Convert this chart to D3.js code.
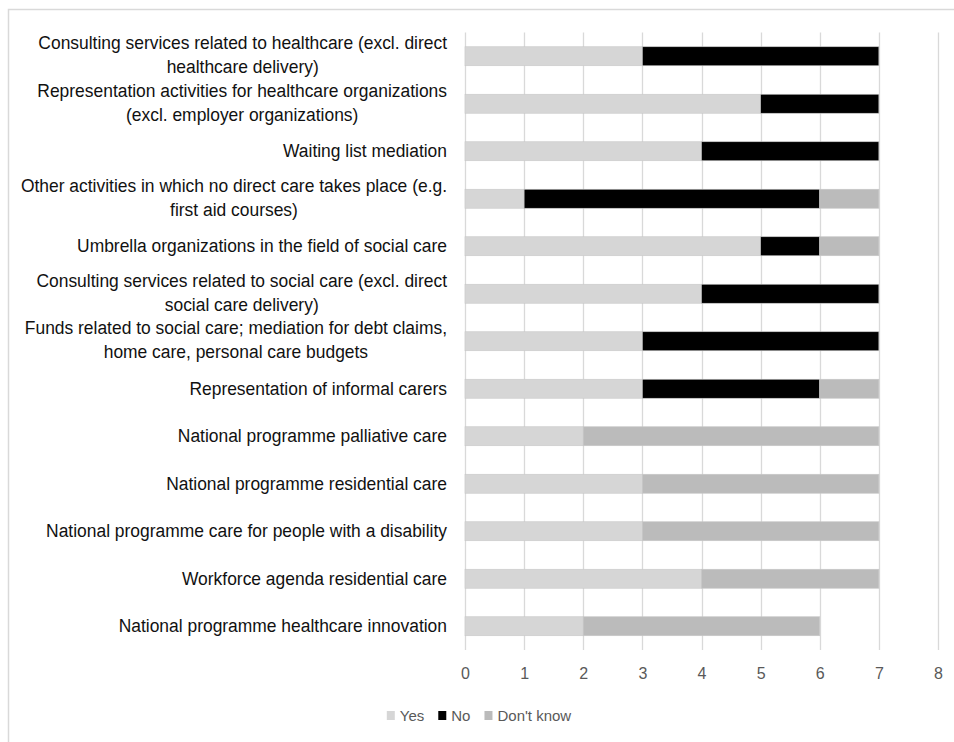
<!DOCTYPE html>
<html>
<head>
<meta charset="utf-8">
<script src="https://cdn.jsdelivr.net/npm/d3@7"></script>
<style>
  html, body { margin: 0; padding: 0; background: #fff; }
  svg { display: block; }
</style>
</head>
<body>
<svg id="chart" width="954" height="742"></svg>
<script>
// ---- Data ----
const categories = [
  ["Consulting services related to healthcare (excl. direct", "healthcare delivery)"],
  ["Representation activities for healthcare organizations", "(excl. employer organizations)"],
  ["Waiting list mediation"],
  ["Other activities in which no direct care takes place (e.g.", "first aid courses)"],
  ["Umbrella organizations in the field of social care"],
  ["Consulting services related to social care (excl. direct", "social care delivery)"],
  ["Funds related to social care; mediation for debt claims,", "home care, personal care budgets"],
  ["Representation of informal carers"],
  ["National programme palliative care"],
  ["National programme residential care"],
  ["National programme care for people with a disability"],
  ["Workforce agenda residential care"],
  ["National programme healthcare innovation"]
];
const yesValues     = [3, 5, 4, 1, 5, 4, 3, 3, 2, 3, 3, 4, 2];
const noValues      = [4, 2, 3, 5, 1, 3, 4, 3, 0, 0, 0, 0, 0];
const dontKnowValues= [0, 0, 0, 1, 1, 0, 0, 1, 5, 4, 4, 3, 4];
const seriesNames = ["Yes", "No", "Don't know"];
const seriesColors = ["#d6d6d6", "#000000", "#bbbbbb"];
const xTicks = [0, 1, 2, 3, 4, 5, 6, 7, 8];

// ---- Build ----
const svg = d3.select("#chart");
const font = "'Liberation Sans', Arial, sans-serif";

// chart frame (cropped at right/bottom)
svg.append("path")
  .attr("d", "M8.5,742 L8.5,9.5 L954,9.5")
  .attr("fill", "none").attr("stroke", "#d9d9d9").attr("stroke-width", 1.5);

const keys = categories.map((c, i) => i);
const x = d3.scaleLinear().domain([0, 8]).range([465, 938]);
const y = d3.scaleBand().domain(keys).range([32.5, 650]).paddingInner(0.6).paddingOuter(0.3);

// gridlines
svg.append("g").selectAll("line").data(xTicks).join("line")
  .attr("x1", d => Math.round(x(d)) + 0.5).attr("x2", d => Math.round(x(d)) + 0.5)
  .attr("y1", 32.5).attr("y2", 650)
  .attr("stroke", "#d9d9d9").attr("stroke-width", 1.3);

// stacked data
const rows = keys.map(i => ({ i, Yes: yesValues[i], No: noValues[i], "Don't know": dontKnowValues[i] }));
const stacked = d3.stack().keys(seriesNames)(rows);

svg.append("g").selectAll("g").data(stacked).join("g")
  .attr("fill", (d, k) => seriesColors[k])
  .selectAll("rect").data(d => d.filter(s => s[1] > s[0])).join("rect")
  .attr("x", d => x(d[0]))
  .attr("width", d => x(d[1]) - x(d[0]))
  .attr("y", d => y(d.data.i))
  .attr("height", y.bandwidth())
  .attr("stroke", "#c8c8c8").attr("stroke-width", 0.6);

// x axis tick labels
const xAxis = d3.axisBottom(x).tickValues(xTicks).tickSize(0).tickPadding(0).tickFormat(d3.format("d"));
const gx = svg.append("g").attr("transform", "translate(0,668)").call(xAxis);
gx.select(".domain").remove();
gx.selectAll("text").attr("font-family", font).attr("font-size", 16).attr("fill", "#595959");

// category labels: determine font size to fit reference width
const probe = svg.append("text").attr("font-family", font).attr("font-size", 15)
  .text(categories[0][0]);
const w15 = probe.node().getComputedTextLength();
probe.remove();
const labelSize = 15 * 409 / w15;
const labelRight = 447;
const lineH = 24;

const lg = svg.append("g").attr("font-family", font).attr("font-size", labelSize).attr("fill", "#111");
categories.forEach((lines, i) => {
  const cy = y(i) + y.bandwidth() / 2;
  if (lines.length === 1) {
    lg.append("text").attr("x", labelRight).attr("y", cy).attr("dy", "0.35em")
      .attr("text-anchor", "end").text(lines[0]);
  } else {
    const tmp = lines.map(l => {
      const t = lg.append("text").text(l);
      const w = t.node().getComputedTextLength();
      t.remove();
      return w;
    });
    const W = d3.max(tmp);
    const cx = labelRight - W / 2;
    lines.forEach((l, j) => {
      lg.append("text").attr("x", cx)
        .attr("y", cy + (j - (lines.length - 1) / 2) * lineH - 1)
        .attr("dy", "0.35em").attr("text-anchor", "middle").text(l);
    });
  }
});

// legend
const legend = svg.append("g").attr("font-family", font).attr("font-size", 15).attr("fill", "#595959");
const items = [];
let cursor = 0;
seriesNames.forEach((name, k) => {
  const g = legend.append("g");
  g.append("rect").attr("x", 0).attr("y", -5).attr("width", 8).attr("height", 9).attr("fill", seriesColors[k]);
  const t = g.append("text").attr("x", 13).attr("y", 0).attr("dy", "0.35em").text(name);
  const w = 13 + t.node().getComputedTextLength();
  items.push({ g, off: cursor });
  cursor += w + 14;
});
const totalW = cursor - 14;
const startX = 479 - totalW / 2;
items.forEach(it => it.g.attr("transform", `translate(${startX + it.off},716)`));
</script>
</body>
</html>
